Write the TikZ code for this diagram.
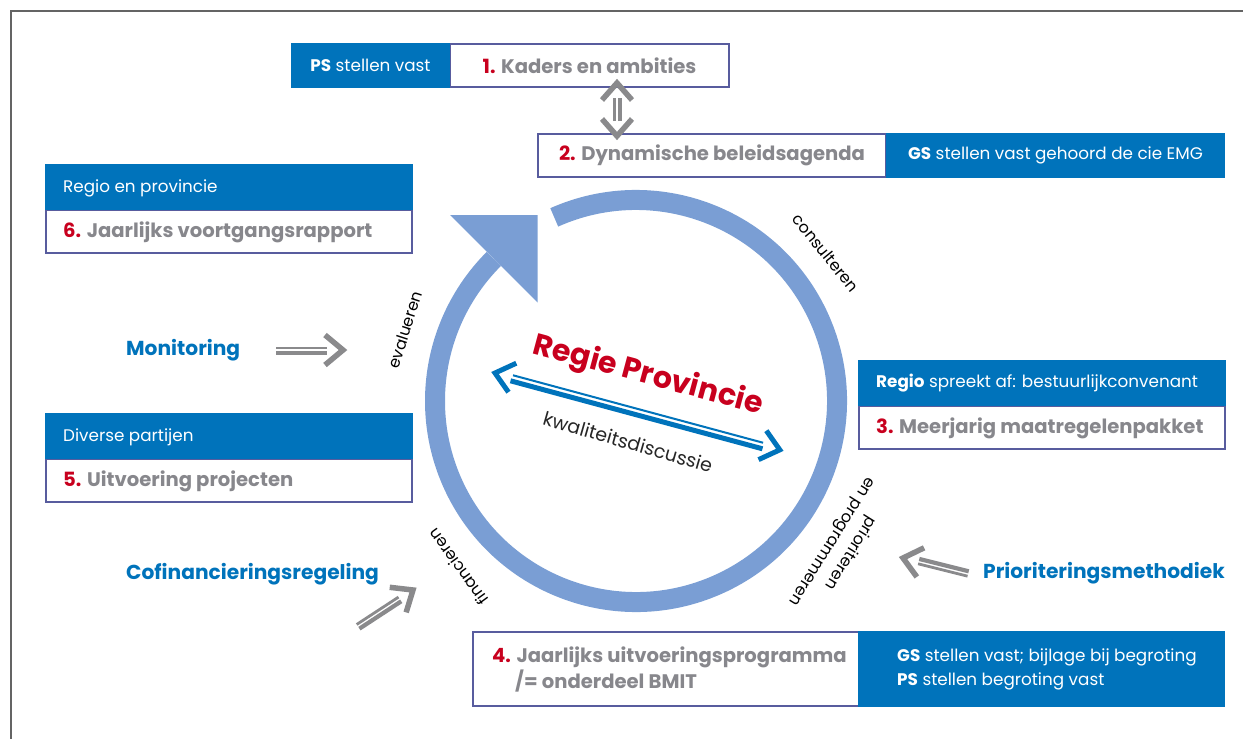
\documentclass[tikz,border=0pt]{standalone}
\usepackage{fontspec}
\setmainfont{Poppins}
\usetikzlibrary{calc}
\definecolor{boxblue}{RGB}{0,115,187}
\definecolor{ringblue}{RGB}{122,158,212}
\definecolor{txtgray}{RGB}{135,135,140}
\definecolor{numred}{RGB}{200,0,30}
\definecolor{bordpurple}{RGB}{88,92,158}
\definecolor{arrgray}{RGB}{138,138,140}
\definecolor{framegray}{RGB}{100,100,100}
\newcommand{\fsreg}{\fontsize{16.8}{20}\selectfont}
\newcommand{\fsbold}{\fontsize{19.6}{24}\selectfont\bfseries}
\newcommand{\fsblue}{\fontsize{20.2}{24}\selectfont\bfseries}
\newcommand{\fscirc}{\fontsize{16}{20}\selectfont}
\newcommand{\rednum}[1]{{\color{numred}#1}}
\newcommand{\sarrow}[5]{%
  \begin{scope}[shift={(#2,#3)}, rotate=#4]
    \coordinate (#1tip) at (0,0);
    \coordinate (#1tail) at (-#5,0);
    \draw[chev] (-18,15) -- (#1tip) -- (-18,-15);
    \draw[thinsh] (-#5,2) -- (-16,2);
    \draw[thicksh] (-#5,-3) -- (-16,-3);
  \end{scope}}
\begin{document}
\begin{tikzpicture}[x=1pt,y=1pt,
  wbox/.style={draw=bordpurple, line width=2.5pt, fill=white, inner sep=0pt},
  bbox/.style={fill=boxblue, draw=none, inner sep=0pt},
  btext/.style={text=white, font=\fsreg, inner sep=0pt},
  gtext/.style={text=txtgray, font=\fsbold, inner sep=0pt},
  bluelbl/.style={text=boxblue, font=\fsblue, inner sep=0pt},
  circlbl/.style={text=black, font=\fscirc, inner sep=0pt},
  chev/.style={line width=5.5pt, line join=miter, line cap=butt},
  thinsh/.style={line width=2.8pt},
  thicksh/.style={line width=4.2pt}]
\useasboundingbox (0,0) rectangle (1243,-739);
% frame
\draw[framegray, line width=2pt] (10.5,-739) -- (10.5,-10.5) -- (1243,-10.5);

% ring
\coordinate (C) at (636,-401);
\draw[ringblue, line width=20pt] ($(C)+(114:201pt)$) arc[start angle=114, end angle=-225, radius=201pt];
\coordinate (P) at ($(C)+(135:201pt)$);
\fill[ringblue] ($(P)+(135:62pt)$) -- ($(P)+(45:62pt)$) -- ($(P)+(-45:62pt)$) -- cycle;

% box 1
\node[wbox, minimum width=279, minimum height=43] (b1w) at (589.5,-65.5) {};
\node[bbox, minimum width=159, minimum height=45.5] (b1b) at (370.5,-65.5) {};
\node[btext] (t1a) at (b1b) {\textbf{PS} stellen vast};
\node[gtext] (t1b) at (b1w) {\rednum{1.} Kaders en ambities};

% box 2
\node[wbox, minimum width=348, minimum height=43] (b2w) at (712,-155.5) {};
\node[bbox, minimum width=339, minimum height=45.5] (b2b) at (1055.5,-155.5) {};
\node[gtext] (t2b) at (b2w) {\rednum{2.} Dynamische beleidsagenda};
\node[btext] (t2a) at (b2b) {\textbf{GS} stellen vast gehoord de cie EMG};

% vertical double arrow between 1 and 2
\begin{scope}[shift={(617,-136)}, rotate=90, color=arrgray]
  \coordinate (vaBot) at (0,0);
  \coordinate (vaTop) at (53,0);
  \draw[chev] (17,15) -- (vaBot) -- (17,-15);
  \draw[chev] (36,15) -- (vaTop) -- (36,-15);
  \draw[thinsh] (15,2.5) -- (38,2.5);
  \draw[thicksh] (15,-3) -- (38,-3);
\end{scope}

% box 6
\node[wbox, minimum width=366, minimum height=43] (b6w) at (229,-231.5) {};
\node[bbox, minimum width=368.5, minimum height=46] (b6b) at (229,-187) {};
\node[btext, anchor=west] (t6a) at (63,-188) {Regio en provincie};
\node[gtext, anchor=west] (t6b) at (63,-232) {\rednum{6.} Jaarlijks voortgangsrapport};

% box 5
\node[wbox, minimum width=366, minimum height=43] (b5w) at (229,-480.5) {};
\node[bbox, minimum width=368.5, minimum height=46] (b5b) at (229,-436) {};
\node[btext, anchor=west] (t5a) at (63,-437) {Diverse partijen};
\node[gtext, anchor=west] (t5b) at (63,-481) {\rednum{5.} Uitvoering projecten};

% box 3
\node[wbox, minimum width=366, minimum height=43] (b3w) at (1042,-427.5) {};
\node[bbox, minimum width=368.5, minimum height=46] (b3b) at (1042,-383) {};
\node[btext, anchor=west] (t3a) at (876,-383) {\textbf{Regio} spreekt af: bestuurlijkconvenant};
\node[gtext, anchor=west] (t3b) at (876,-428) {\rednum{3.} Meerjarig maatregelenpakket};

% box 4
\node[wbox, minimum width=386, minimum height=74] (b4w) at (666,-669) {};
\node[bbox, minimum width=367, minimum height=76.5] (b4b) at (1041.5,-669) {};
\node[gtext, anchor=west, align=left, font=\fontsize{19.6}{26}\selectfont\bfseries] (t4b) at (492,-669)
  {\rednum{4.} Jaarlijks uitvoeringsprogramma\\\phantom{4.}\ /= onderdeel BMIT};
\node[btext, anchor=west, align=left, font=\fontsize{16.8}{24}\selectfont] (t4a) at (897,-669)
  {\textbf{GS} stellen vast; bijlage bij begroting\\\textbf{PS} stellen begroting vast};

% side labels
\node[bluelbl, anchor=west] (mon) at (126,-350) {Monitoring};
\node[bluelbl, anchor=west] (cofi) at (126,-574) {Cofinancieringsregeling};
\node[bluelbl, anchor=east] (prio) at (1225,-573) {Prioriteringsmethodiek};

\begin{scope}[color=arrgray]
\sarrow{mon}{343}{-350}{0}{67}
\sarrow{cof}{413}{-590}{33.2}{66}
\sarrow{pri}{903}{-558}{166}{67}
\end{scope}

% circle labels
\node[circlbl, rotate=-51] (lcons) at (826,-253) {consulteren};
\node[circlbl, rotate=72] (leval) at (405,-330) {evalueren};
\node[circlbl, rotate=126] (lfin) at (458,-567) {financieren};
\node[circlbl, rotate=238, align=center, font=\fontsize{16}{22}\selectfont] (lprio) at (841,-547) {prioriteren\\en programmeren};

% centre
\node[text=numred, font=\fontsize{30}{34}\selectfont\bfseries, rotate=-15, inner sep=0pt] (regie) at (648,-376) {Regie Provincie};
\node[text=black!85, font=\fontsize{19}{22}\selectfont, rotate=-16, inner sep=0pt] (kwal) at (628,-442) {kwaliteitsdiscussie};
\begin{scope}[shift={(495,-373)}, rotate=-15.1, color=boxblue]
  \coordinate (kdL) at (0,0);
  \coordinate (kdR) at (295,0);
  \draw[line width=5pt, line join=miter] (18,15) -- (kdL) -- (18,-15);
  \draw[line width=5pt, line join=miter] (277,15) -- (kdR) -- (277,-15);
  \draw[line width=2pt] (18,2.5) -- (277,2.5);
  \draw[line width=5pt] (17,-3.5) -- (278,-3.5);
\end{scope}
\end{tikzpicture}
\end{document}
